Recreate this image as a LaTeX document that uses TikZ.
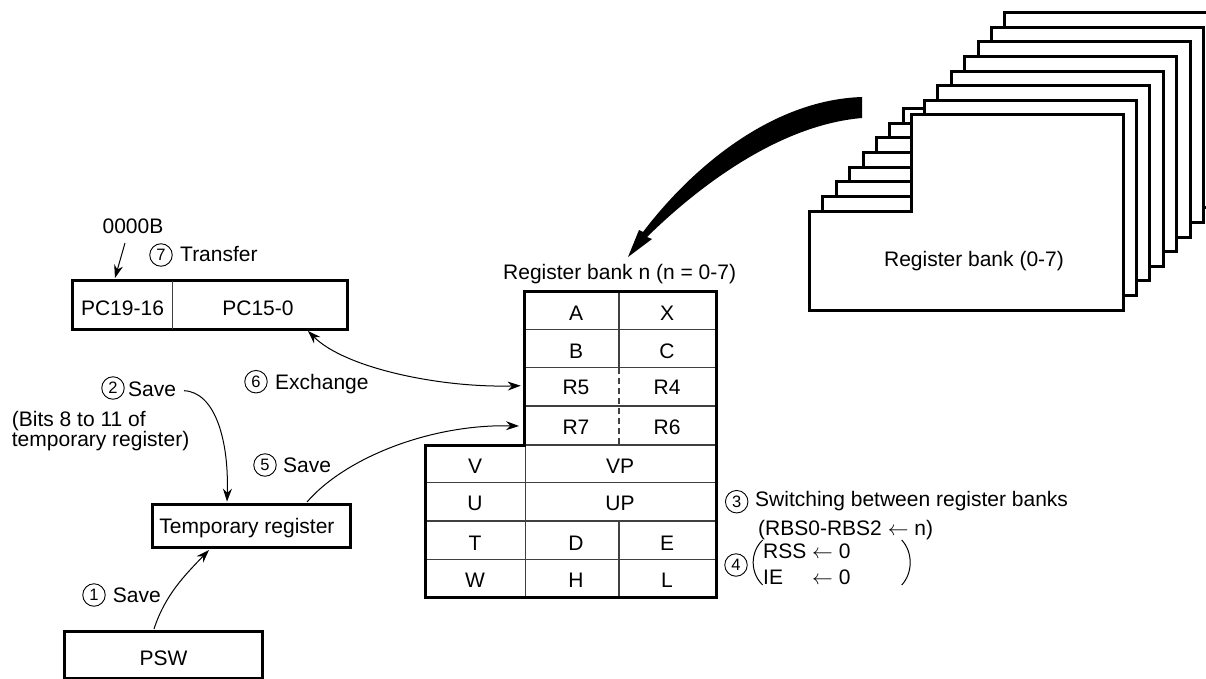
\documentclass[tikz,border=0pt]{standalone}
\usepackage{fontspec}
\setmainfont{Liberation Sans}
\usetikzlibrary{arrows.meta}
\tikzset{
  lbl/.style={font=\fontsize{21}{24}\selectfont,inner sep=0pt,anchor=base west},
  cell/.style={font=\fontsize{21}{24}\selectfont,inner sep=0pt,anchor=base},
  box/.style={draw=black,line width=3pt,fill=white,inner sep=0pt,outer sep=0pt,anchor=north west},
  num/.style={draw=black,line width=0.9pt,circle,inner sep=0pt,minimum size=22.5pt,font=\fontsize{16.5}{18}\selectfont},
  thick line/.style={draw=black,line width=3pt,line join=miter},
  thin line/.style={draw=black!75,line width=1.1pt},
  conn/.style={draw=black,line width=1pt,-{Stealth[length=13pt,width=9pt]}},
  page/.style={draw=black,line width=3pt,fill=white,line join=miter},
}
\newcommand{\bankpage}[1]{%
  \path[page] ({809.5+13.4*#1},{310-14.6*#1}) -- ({809.5+13.4*#1},{211-14.6*#1}) -- ({911+13.4*#1},{211-14.6*#1}) -- ({911+13.4*#1},{115-14.6*#1}) -- ({1123+13.4*#1},{115-14.6*#1}) -- ({1123+13.4*#1},{310-14.6*#1}) -- cycle;}
\begin{document}
\begin{tikzpicture}[x=1pt,y=-1pt]
\useasboundingbox (0,0) rectangle (1206,679);
\begin{scope}
\clip (0,0) rectangle (1206,679);
% register bank stack
\foreach \k in {7,6,...,0} {\bankpage{\k}}
\node[cell] (banks) at (974,266.7) {Register bank (0-7)};
% big arrow
\fill[black] (862,97) .. controls (770,100) and (690,170) .. (643,232)
  -- (639,230) -- (628,257) -- (652,239) -- (647,237)
  .. controls (700,185) and (780,125) .. (862,118) -- cycle;
% register table
\foreach \y in {329.3,367.7,406} {\draw[thin line] (524,\y) -- (716,\y);}
\foreach \y in {445,482.7,521,559.3} {\draw[thin line] (425,\y) -- (716,\y);}
\draw[thin line] (619,291) -- (619,367.7);
\draw[thin line,dashed,dash pattern=on 6pt off 4pt] (619,367.7) -- (619,445);
\draw[thin line] (525.5,445) -- (525.5,597);
\draw[thin line] (619,521) -- (619,597);
\path[thick line] (524,291) -- (716,291) -- (716,597) -- (425,597) -- (425,445) -- (524,445) -- cycle;
\node[cell] (cA) at (576,320.7) {A};
\node[cell] (cX) at (667,320.7) {X};
\node[cell] (cB) at (576,358.5) {B};
\node[cell] (cC) at (667,358.5) {C};
\node[cell] (cR5) at (576,394.5) {R5};
\node[cell] (cR4) at (667,394.5) {R4};
\node[cell] (cR7) at (576,434) {R7};
\node[cell] (cR6) at (667,434) {R6};
\node[cell] (cV) at (475,473) {V};
\node[cell] (cVP) at (620,473) {VP};
\node[cell] (cU) at (475,510.7) {U};
\node[cell] (cUP) at (620,510.7) {UP};
\node[cell] (cT) at (475,550) {T};
\node[cell] (cD) at (576,550) {D};
\node[cell] (cE) at (667,550) {E};
\node[cell] (cW) at (475,587) {W};
\node[cell] (cH) at (576,587) {H};
\node[cell] (cL) at (667,587) {L};
\node[lbl] (bankn) at (503,279.3) {Register bank n (n = 0-7)};
% boxes
\node[box,minimum width=275pt,minimum height=48.5pt] (pc) at (72.7,280.7) {};
\draw[thin line] (172.3,280.7) -- (172.3,329.2);
\node[cell] (pc1) at (122.5,315) {PC19-16};
\node[cell] (pc2) at (258,315) {PC15-0};
\node[box,minimum width=198.7pt,minimum height=43pt] (temp) at (152,504) {};
\node[cell] (temptext) at (247,533) {Temporary register};
\node[box,minimum width=198.4pt,minimum height=47pt] (psw) at (64.3,631) {};
\node[cell] (pswtext) at (163.5,665) {PSW};
% labels
\node[lbl,anchor=base] (addr) at (133,233) {0000B};
\node[num] (n7) at (161,255) {7};
\node[lbl] (t7) at (180,261.7) {Transfer};
\node[num] (n2) at (113,388) {2};
\node[lbl] (t2) at (128,396) {Save};
\node[lbl] (bits1) at (11.7,426.7) {(Bits 8 to 11 of};
\node[lbl] (bits2) at (11.7,446.7) {temporary register)};
\node[num] (n6) at (256,381.7) {6};
\node[lbl] (t6) at (275,389) {Exchange};
\node[num] (n5) at (265,465) {5};
\node[lbl] (t5) at (283,472) {Save};
\node[num] (n1) at (94,595) {1};
\node[lbl] (t1) at (112.7,602) {Save};
\node[num] (n3) at (736.7,501.7) {3};
\node[lbl] (t3) at (755,506.7) {Switching between register banks};
\node[lbl] (t3b) at (758,535) {(RBS0-RBS2 $\leftarrow$ n)};
\node[num] (n4) at (736,565) {4};
\node[lbl] (t4a) at (763,558) {RSS $\leftarrow$ 0};
\node[lbl] (t4b) at (763,584) {\rlap{IE}\phantom{RSS} $\leftarrow$ 0};
\draw[black,line width=1pt] (762.7,540) .. controls (750,552) and (750,573) .. (762.7,585);
\draw[black,line width=1pt] (901.7,540) .. controls (913,552) and (913,573) .. (901.7,585);
% connector ends
\coordinate (addrEnd) at (125,243);
\coordinate (pcTop) at (115,278);
\coordinate (pcBot) at (308,331);
\coordinate (r5) at (520.7,385.7);
\coordinate (r7) at (519,426);
\coordinate (tempTopR) at (307,502);
\coordinate (tempTopL) at (227,501.6);
\coordinate (tempBot) at (209,550);
\coordinate (saveEnd) at (184,390.7);
\coordinate (pswTop) at (154,629);
% connectors
\draw[conn] (addrEnd) -- (pcTop);
\draw[conn,{Stealth[length=13pt,width=9pt]}-{Stealth[length=13pt,width=9pt]}] (pcBot) .. controls (345,368) and (440,388) .. (r5);
\draw[conn] (tempTopR) .. controls (345,458) and (430,424) .. (r7);
\draw[conn] (saveEnd) .. controls (215,392) and (229,440) .. (tempTopL);
\draw[conn] (pswTop) .. controls (165,595) and (185,575) .. (tempBot);
\end{scope}
\end{tikzpicture}
\end{document}
